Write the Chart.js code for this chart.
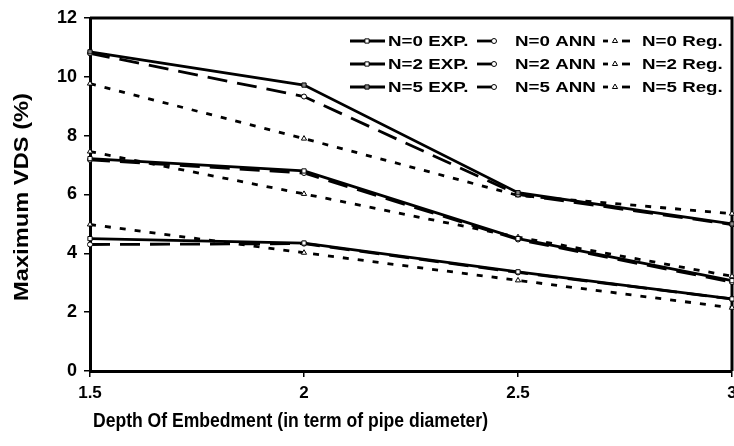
<!DOCTYPE html>
<html>
<head>
<meta charset="utf-8">
<script src="https://cdn.jsdelivr.net/npm/chart.js@4.4.1/dist/chart.umd.min.js"></script>
<style>
  html, body { margin: 0; padding: 0; background: #fff; overflow: hidden; }
  #wrap { position: relative; width: 760px; height: 446px; }
</style>
</head>
<body>
<div id="wrap"><canvas id="myChart"></canvas></div>
<script>
// depth of embedment (x) and max VDS values (%)
var depth = [1.5, 2, 2.5, 3];
var n0Exp = [4.50, 4.35, 3.37, 2.45];
var n0Ann = [4.30, 4.33, 3.35, 2.45];
var n0Reg = [4.98, 4.02, 3.08, 2.15];
var n2Exp = [7.22, 6.80, 4.50, 3.07];
var n2Ann = [7.18, 6.73, 4.47, 3.02];
var n2Reg = [7.46, 6.02, 4.55, 3.22];
var n5Exp = [10.85, 9.72, 6.06, 5.00];
var n5Ann = [10.80, 9.33, 6.00, 4.98];
var n5Reg = [9.77, 7.90, 5.97, 5.35];
var xTicks = [1.5, 2, 2.5, 3];
var yTicks = [0, 2, 4, 6, 8, 10, 12];
var seriesNames = ['N=0 EXP.', 'N=0 ANN', 'N=0 Reg.', 'N=2 EXP.', 'N=2 ANN', 'N=2 Reg.', 'N=5 EXP.', 'N=5 ANN', 'N=5 Reg.'];
var xTitle = 'Depth Of Embedment (in term of pipe diameter)';
var yTitle = 'Maximum VDS (%)';

var FONT = '"Liberation Sans", Arial, sans-serif';

function pts(vals) {
    return depth.map(function (d, i) { return { x: d, y: vals[i] }; });
}

function expSet(label, vals, fill) {
    return { label: label, data: pts(vals), borderColor: '#000', borderWidth: 2.8,
        pointStyle: 'rect', pointRadius: 3, pointBorderWidth: 1,
        pointBorderColor: '#000', pointBackgroundColor: fill, clip: false };
}
function annSet(label, vals) {
    return { label: label, data: pts(vals), borderColor: '#000', borderWidth: 2.8, borderDash: [20, 10],
        pointStyle: 'circle', pointRadius: 2.5, pointBorderWidth: 1,
        pointBorderColor: '#000', pointBackgroundColor: '#fff', clip: false };
}
function regSet(label, vals) {
    return { label: label, data: pts(vals), borderColor: '#000', borderWidth: 2.8, borderDash: [6, 9],
        pointStyle: 'triangle', pointRadius: 3, pointBorderWidth: 1,
        pointBorderColor: '#000', pointBackgroundColor: '#fff', clip: false };
}

// frame around the plot area
var frameBox = {
    id: 'frameBox',
    beforeDatasetsDraw: function (chart) {
        var a = chart.chartArea, ctx = chart.ctx;
        ctx.save();
        ctx.strokeStyle = '#000';
        ctx.lineWidth = 3;
        ctx.beginPath();
        ctx.moveTo(a.left, a.top);
        ctx.lineTo(a.right, a.top);
        ctx.lineTo(a.right, a.bottom);
        ctx.stroke();
        ctx.restore();
    }
};

// axis titles, drawn by hand so their width can be matched
var axisTitles = {
    id: 'axisTitles',
    afterDraw: function (chart) {
        var ctx = chart.ctx;
        ctx.save();
        ctx.fillStyle = '#000';
        ctx.font = 'bold 20px ' + FONT;
        ctx.textBaseline = 'middle';
        ctx.textAlign = 'left';
        var w = ctx.measureText(xTitle).width;
        ctx.translate(93, 421);
        ctx.scale(395 / w, 1);
        ctx.fillText(xTitle, 0, 0);
        ctx.restore();

        ctx.save();
        ctx.fillStyle = '#000';
        ctx.font = 'bold 21px ' + FONT;
        ctx.textBaseline = 'middle';
        ctx.textAlign = 'center';
        var h = ctx.measureText(yTitle).width;
        ctx.translate(22, 197);
        ctx.rotate(-Math.PI / 2);
        ctx.scale(208 / h, 1);
        ctx.fillText(yTitle, 0, 0);
        ctx.restore();
    }
};

// 3 x 3 legend inside the plot, top right
var legendGrid = {
    id: 'legendGrid',
    afterDraw: function (chart) {
        var ctx = chart.ctx;
        var cols = [
            { segs: [[350, 385]], mark: 367, tx: 388 },
            { segs: [[477, 492]], mark: 494, tx: 515 },
            { segs: [[603, 608], [622, 630]], mark: 615, tx: 642 }
        ];
        var rows = [41, 64, 87];
        chart.data.datasets.forEach(function (ds, i) {
            var c = cols[i % 3], y = rows[Math.floor(i / 3)];
            ctx.save();
            ctx.strokeStyle = '#000';
            ctx.lineWidth = 2.8;
            ctx.setLineDash([]);
            c.segs.forEach(function (s) {
                ctx.beginPath();
                ctx.moveTo(s[0], y);
                ctx.lineTo(s[1], y);
                ctx.stroke();
            });
            ctx.fillStyle = ds.pointBackgroundColor;
            ctx.strokeStyle = '#000';
            ctx.lineWidth = 1;
            Chart.helpers.drawPoint(ctx, { pointStyle: ds.pointStyle, rotation: 0, radius: ds.pointRadius, borderWidth: 1 }, c.mark, y);
            ctx.fillStyle = '#000';
            ctx.font = 'bold 15px ' + FONT;
            ctx.textBaseline = 'middle';
            ctx.translate(c.tx, y);
            ctx.scale(1.25, 1);
            ctx.fillText(ds.label, 0, 1);
            ctx.restore();
        });
    }
};

var ctx = document.getElementById('myChart').getContext('2d');
var myChart = new Chart(ctx, {
    type: 'line',
    data: {
        datasets: [
            expSet(seriesNames[0], n0Exp, '#fff'), annSet(seriesNames[1], n0Ann), regSet(seriesNames[2], n0Reg),
            expSet(seriesNames[3], n2Exp, '#fff'), annSet(seriesNames[4], n2Ann), regSet(seriesNames[5], n2Reg),
            expSet(seriesNames[6], n5Exp, '#888'), annSet(seriesNames[7], n5Ann), regSet(seriesNames[8], n5Reg)
        ]
    },
    options: {
        responsive: true,
        maintainAspectRatio: false,
        animation: false,
        layout: { padding: { top: 18, right: 28, left: 0, bottom: 0 } },
        plugins: { legend: { display: false }, tooltip: { enabled: false } },
        scales: {
            x: {
                type: 'linear', min: 1.5, max: 3,
                afterBuildTicks: function (s) { s.ticks = xTicks.map(function (v) { return { value: v }; }); },
                afterFit: function (s) { s.height = 75; },
                ticks: { color: '#000', font: { family: FONT, size: 17, weight: 'bold' }, padding: 6,
                    maxRotation: 0, callback: function (v) { return String(v); } },
                grid: { drawOnChartArea: false, color: '#000', lineWidth: 1.5, tickLength: 6 },
                border: { color: '#000', width: 3 }
            },
            y: {
                min: 0, max: 12,
                afterBuildTicks: function (s) { s.ticks = yTicks.map(function (v) { return { value: v }; }); },
                afterFit: function (s) { s.width = 90; },
                ticks: { color: '#000', font: { family: FONT, size: 18, weight: 'bold' }, padding: 7 },
                grid: { drawOnChartArea: false, color: '#000', lineWidth: 1.5, tickLength: 6 },
                border: { color: '#000', width: 3 }
            }
        }
    },
    plugins: [frameBox, axisTitles, legendGrid]
});
</script>
</body>
</html>
